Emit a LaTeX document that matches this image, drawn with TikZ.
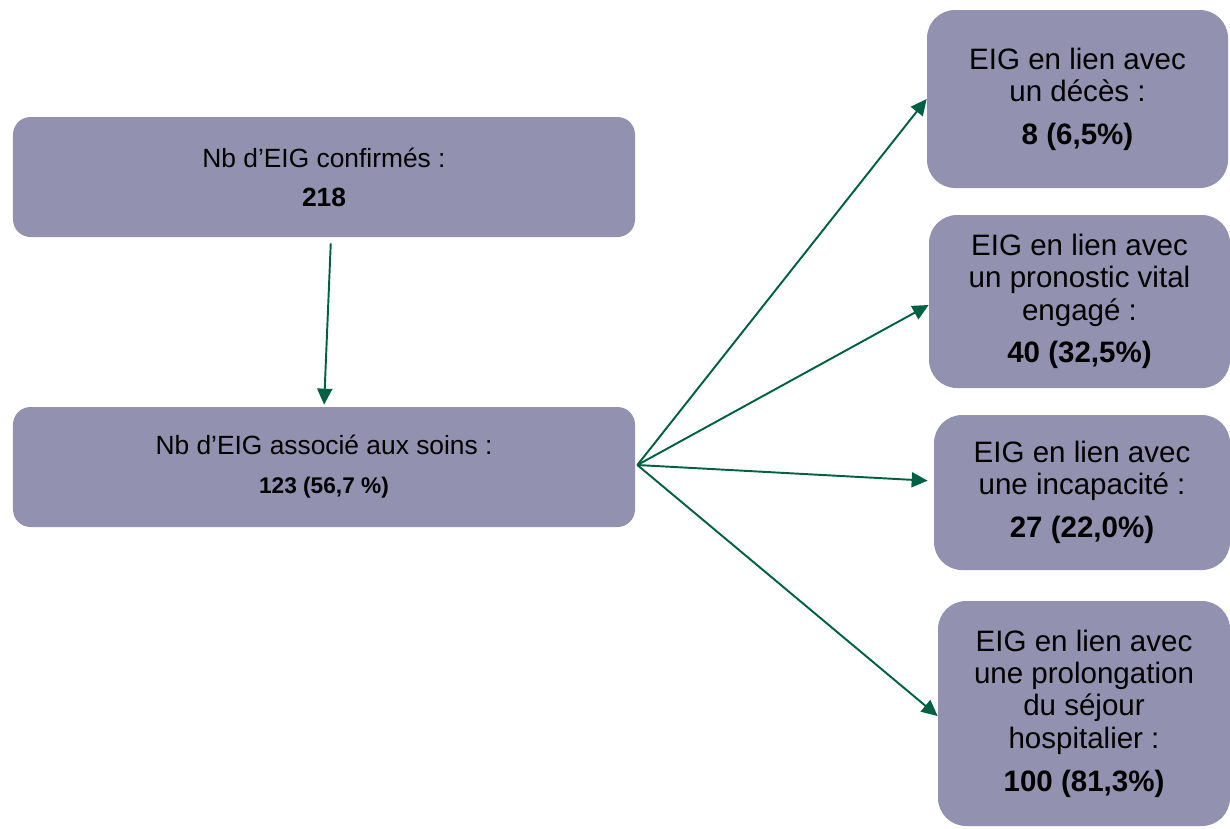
\documentclass[tikz,border=0pt]{standalone}
\usepackage{fontspec}
\setmainfont{Liberation Sans}
\usetikzlibrary{arrows.meta,positioning,calc}
\definecolor{boxgrey}{RGB}{146,145,175}
\definecolor{arrgreen}{RGB}{0,97,66}

\begin{document}
\begin{tikzpicture}[
    lbox/.style={fill=boxgrey, rounded corners=10pt, minimum width=12.44cm, minimum height=2.4cm, align=center, inner sep=0pt, font=\fontsize{15}{22.2}\selectfont},
    rbox/.style={fill=boxgrey, rounded corners=16pt, inner sep=0pt, align=center, font=\fontsize{16.8}{18.4}\selectfont},
    arr/.style={-{Triangle[length=0.32cm, width=0.3cm]}, draw=arrgreen, fill=arrgreen, line width=1.1pt}
]
\useasboundingbox (0,0) rectangle (24.6,-16.56);
\node[lbox] (conf) at (6.48,-3.54) {Nb d’EIG confirmés :\\\textbf{218}};
\node[lbox] (soins) at (6.48,-9.34) {Nb d’EIG associé aux soins :\\{\fontsize{12.9}{15}\selectfont\bfseries 123 (56,7 \%)}};
\node[rbox, minimum width=6.02cm, minimum height=3.56cm] (deces) at (21.55,-1.98) {EIG en lien avec\\un décès :\\[6pt]\textbf{8 (6,5\%)}};
\node[rbox, minimum width=6.02cm, minimum height=3.46cm] (vital) at (21.59,-6.03) {EIG en lien avec\\un pronostic vital\\engagé :\\[6pt]\textbf{40 (32,5\%)}};
\node[rbox, minimum width=5.92cm, minimum height=3.1cm] (incap) at (21.64,-9.85) {EIG en lien avec\\une incapacité :\\[6pt]\textbf{27 (22,0\%)}};
\node[rbox, minimum width=5.84cm, minimum height=4.5cm] (prolong) at (21.68,-14.27) {EIG en lien avec\\une prolongation\\du séjour\\hospitalier :\\[6pt]\textbf{100 (81,3\%)}};

\draw[arr, shorten <=0.12cm, shorten >=0.04cm] ([xshift=0.14cm]conf.south) -- (soins.north);
\coordinate (fan) at ([xshift=0.04cm, yshift=0.04cm]soins.east);
\draw[arr] (fan) -- (deces.west);
\draw[arr] (fan) -- ([yshift=-0.07cm]vital.west);
\draw[arr, shorten >=0.12cm] (fan) -- ([yshift=0.23cm]incap.west);
\draw[arr] (fan) -- ([yshift=-0.05cm]prolong.west);
\end{tikzpicture}
\end{document}
